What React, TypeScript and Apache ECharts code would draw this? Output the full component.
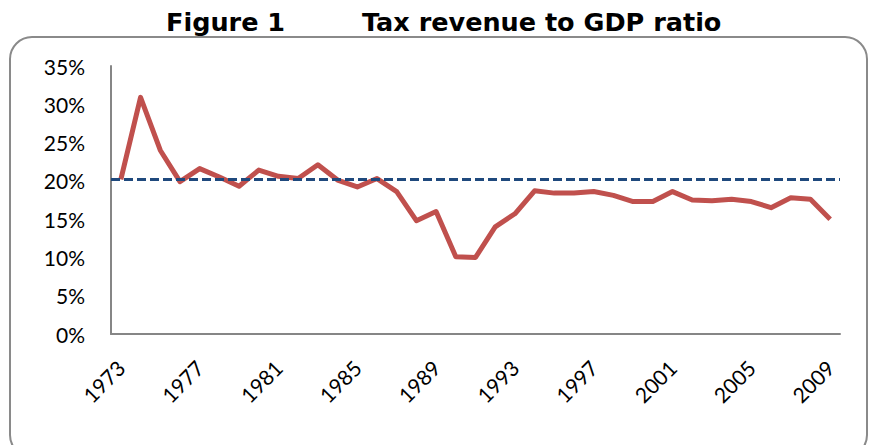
import React, { useEffect, useRef } from "react";
import * as echarts from "echarts";

const years: string[] = [
  "1973","1974","1975","1976","1977","1978","1979","1980","1981","1982",
  "1983","1984","1985","1986","1987","1988","1989","1990","1991","1992",
  "1993","1994","1995","1996","1997","1998","1999","2000","2001","2002",
  "2003","2004","2005","2006","2007","2008","2009",
];
const taxRatio: number[] = [
  20.2, 30.9, 24.0, 19.9, 21.6, 20.5, 19.3, 21.4, 20.6, 20.3,
  22.1, 20.1, 19.2, 20.3, 18.6, 14.8, 16.0, 10.1, 10.0, 14.0,
  15.7, 18.7, 18.4, 18.4, 18.6, 18.1, 17.3, 17.3, 18.6, 17.5,
  17.4, 17.6, 17.3, 16.5, 17.8, 17.6, 15.0,
];
const averageRatio = 20.2;
const titleParts: string[] = ["Figure 1", "Tax revenue to GDP ratio"];

export default function App() {
  const ref = useRef<HTMLDivElement>(null);
  useEffect(() => {
    if (!ref.current) return;
    const chart = echarts.init(ref.current, null, { renderer: "svg" });
    chart.setOption({
      animation: false,
      backgroundColor: "#ffffff",
      title: [
        {
          text: titleParts[0],
          left: 161,
          top: 4,
          textStyle: { fontFamily: "DejaVu Sans", fontWeight: "bold", fontSize: 25.5, color: "#000" },
        },
        {
          text: titleParts[1],
          left: 357,
          top: 4,
          textStyle: { fontFamily: "DejaVu Sans", fontWeight: "bold", fontSize: 25.5, color: "#000" },
        },
      ],
      graphic: [
        {
          type: "rect",
          shape: { x: 10, y: 37, width: 857, height: 420, r: 22 },
          style: { fill: "none", stroke: "#8a8a8a", lineWidth: 2 },
          silent: true,
          z: -1,
        },
      ],
      grid: { left: 111, right: 31, top: 66, bottom: 111, containLabel: false },
      xAxis: {
        type: "category",
        data: years,
        boundaryGap: true,
        axisLine: { show: true, lineStyle: { color: "#868686", width: 2 } },
        axisTick: { show: false },
        axisLabel: {
          interval: 3,
          rotate: 45,
          margin: 30,
          fontFamily: "Lato",
          fontSize: 21,
          color: "#000",
        },
        splitLine: { show: false },
      },
      yAxis: {
        type: "value",
        min: 0,
        max: 35,
        interval: 5,
        axisLine: { show: true, lineStyle: { color: "#868686", width: 2 } },
        axisTick: { show: false },
        splitLine: { show: false },
        axisLabel: {
          formatter: "{value}%",
          margin: 26,
          fontFamily: "Lato",
          fontSize: 21,
          color: "#000",
        },
      },
      series: [
        {
          type: "line",
          data: taxRatio,
          symbol: "none",
          lineStyle: { color: "#C0504D", width: 5, join: "round" },
          markLine: {
            silent: true,
            symbol: ["none", "none"],
            label: { show: false },
            lineStyle: { color: "#1F497D", width: 3, type: [9, 4] },
            data: [{ yAxis: averageRatio }],
          },
        },
      ],
    });
    return () => chart.dispose();
  }, []);
  return (
    <div
      ref={ref}
      style={{ position: "absolute", left: 0, top: 0, width: 871, height: 445 }}
    />
  );
}
